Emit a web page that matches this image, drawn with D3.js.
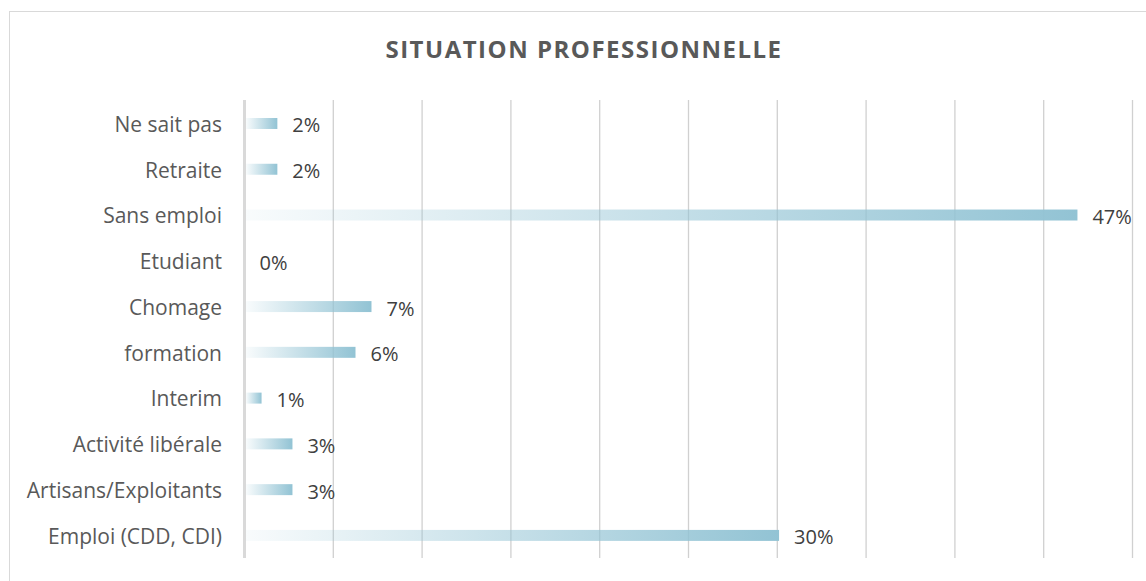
<!DOCTYPE html>
<html><head><meta charset="utf-8">
<script src="https://cdn.jsdelivr.net/npm/d3@7"></script>
<style>html,body{margin:0;padding:0;background:#fff;}svg{display:block;}</style>
</head><body>
<script>
const categories = ["Ne sait pas","Retraite","Sans emploi","Etudiant","Chomage","formation","Interim","Activité libérale","Artisans/Exploitants","Emploi (CDD, CDI)"];
const values = [1.85, 1.85, 46.9, 0, 7.15, 6.25, 0.96, 2.7, 2.7, 30.1];
const valueLabels = ["2%","2%","47%","0%","7%","6%","1%","3%","3%","30%"];
const xTicks = [0,5,10,15,20,25,30,35,40,45,50];
const title = "SITUATION PROFESSIONNELLE";

const W = 1146, H = 581;
const FONT = "'Open Sans', 'Noto Sans', sans-serif";
const svg = d3.select("body").append("svg").attr("width", W).attr("height", H);

const defs = svg.append("defs");
const grad = defs.append("linearGradient").attr("id","barGrad").attr("x1","0").attr("x2","1").attr("y1","0").attr("y2","0");
grad.append("stop").attr("offset","0%").attr("stop-color","#92c3d4").attr("stop-opacity",0.06);
grad.append("stop").attr("offset","100%").attr("stop-color","#92c3d4").attr("stop-opacity",1);

svg.append("rect").attr("x",9.5).attr("y",11.5).attr("width",1140).attr("height",600)
  .attr("fill","#fff").attr("stroke","#d9d9d9").attr("stroke-width",1);

svg.append("text").attr("x",584).attr("y",58).attr("text-anchor","middle")
  .attr("font-family",FONT).attr("font-weight","bold")
  .attr("font-size",24).attr("letter-spacing",1.5).attr("fill","#595959").text(title);

const x = d3.scaleLinear().domain([0,50]).range([244.5,1132.5]);
const y = d3.scaleBand().domain(categories).range([100.6,558.3]).paddingInner(0.76).paddingOuter(0.38);

svg.append("g").selectAll("line").data(xTicks.slice(1)).join("line")
  .attr("x1",d=>x(d)).attr("x2",d=>x(d)).attr("y1",100).attr("y2",558)
  .attr("stroke","#d0d0d0").attr("stroke-width",1.3);

svg.append("g").selectAll("rect").data(values).join("rect")
  .attr("x",x(0)+1.5).attr("y",(d,i)=>y(categories[i]))
  .attr("width",d=>Math.max(0,x(d)-x(0)-1.5)).attr("height",y.bandwidth())
  .attr("fill","url(#barGrad)");

svg.append("line").attr("x1",x(0)).attr("x2",x(0)).attr("y1",100).attr("y2",558)
  .attr("stroke","#d9d9d9").attr("stroke-width",3);

svg.append("g").selectAll("text").data(categories).join("text")
  .attr("x",222).attr("y",d=>y(d)+y.bandwidth()/2+1).attr("dy","0.35em")
  .attr("text-anchor","end").attr("font-family",FONT)
  .attr("font-size",21).attr("fill","#595959").text(d=>d);

svg.append("g").selectAll("text").data(values).join("text")
  .attr("x",d=>x(d)+15).attr("y",(d,i)=>y(categories[i])+y.bandwidth()/2+2).attr("dy","0.35em")
  .attr("font-family",FONT)
  .attr("font-size",20).attr("fill","#404040").text((d,i)=>valueLabels[i]);
</script>
</body></html>
